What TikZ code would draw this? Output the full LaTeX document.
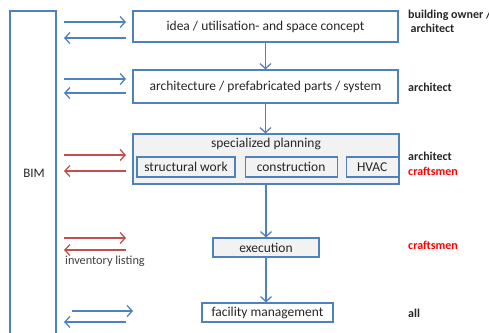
\documentclass[tikz,border=0pt]{standalone}
\usepackage{fontspec}
\setmainfont{Carlito}
\usetikzlibrary{positioning, arrows.meta, calc}
\definecolor{officeblue}{HTML}{4F81BD}
\definecolor{officered}{HTML}{C0504D}
\definecolor{boxfill}{HTML}{F2F2F2}
\definecolor{textgray}{HTML}{262626}
\tikzset{
	stage/.style={draw=officeblue, line width=1.1pt, inner sep=0pt, text=textgray, font=\fontsize{13.5}{15}\selectfont},
	substage/.style={stage, fill=boxfill, minimum height=20pt},
	flow/.style={line width=1.4pt, -{Straight Barb[length=5pt, width=11pt, line width=1.3pt]}},
	role/.style={anchor=west, font=\fontsize{12}{13.5}\selectfont\bfseries, text=textgray, align=left},
}
\begin{document}
	\begin{tikzpicture}[x=1pt, y=-1pt]
		\useasboundingbox (0,0) rectangle (489,332);
		\clip (0,0) rectangle (489,332);
		\draw[officeblue, line width=1.1pt] (10,340) -- (10,11) -- (56,11) -- (56,340);
		\node[text=textgray, font=\fontsize{13}{15}\selectfont] (bim) at (34,173) {BIM};
		\node[stage, minimum width=265pt, minimum height=31pt] (idea) at (265.5,26.5) {idea / utilisation- and space concept};
		\node[stage, minimum width=265pt, minimum height=33pt] (arch) at (265.5,86.5) {architecture / prefabricated parts / system};
		\node[stage, fill=boxfill, minimum width=266pt, minimum height=50pt] (spec) at (266,159) {};
		\node[text=textgray, font=\fontsize{13.5}{15}\selectfont, below=1pt of spec.north] (spectitle) {specialized planning};
		\node[substage, minimum width=98pt] (struct) at (186,167) {structural work};
		\node[substage, minimum width=92pt, right=9pt of struct] (constr) {construction};
		\node[substage, minimum width=52pt, right=8pt of constr] (hvac) {HVAC};
		\node[substage, minimum width=106pt, minimum height=19pt] (exec) at (266,247.5) {execution};
		\node[stage, minimum width=131pt, minimum height=19pt] (fm) at (267.5,312.5) {facility management};
		\draw[flow, officeblue] (idea.south) -- (idea.south |- arch.north);
		\draw[flow, officeblue] (arch.south) -- (arch.south |- spec.north);
		\draw[flow, officeblue] (spec.south) -- (spec.south |- exec.north);
		\draw[flow, officeblue] (exec.south) -- (exec.south |- fm.north);
		\foreach \n/\ya/\yb/\xa/\xb/\col in {1/22/38/64/126/officeblue, 2/79/93/64/126/officeblue, 3/155/171/64/126/officered, 4/238/250/64/126/officered, 5/311/322/72/133/officeblue}{
			\coordinate (out\n a) at (\xa,\ya);
			\coordinate (out\n b) at (\xb,\ya);
			\coordinate (in\n a) at (126,\yb);
			\coordinate (in\n b) at (64,\yb);
			\draw[flow, \col] (out\n a) -- (out\n b);
			\draw[flow, \col] (in\n a) -- (in\n b);
		}
		\node[anchor=north west, inner sep=0pt, text=black!75, font=\fontsize{12.3}{14}\selectfont] (inv) at (65,256) {inventory listing};
		\node[role, anchor=north west, inner sep=0pt] (owner) at (408,10) {building owner /\\\hspace{2.5pt}architect};
		\node[role] (r2) at (408-3.3,87) {architect};
		\node[role] (r3) at (408-3.3,156) {architect};
		\node[role, text=red] (r3b) at (408-3.3,171) {craftsmen};
		\node[role, text=red] (r4) at (408-3.3,245) {craftsmen};
		\node[role] (r5) at (408-3.3,313) {all};
	\end{tikzpicture}
\end{document}
